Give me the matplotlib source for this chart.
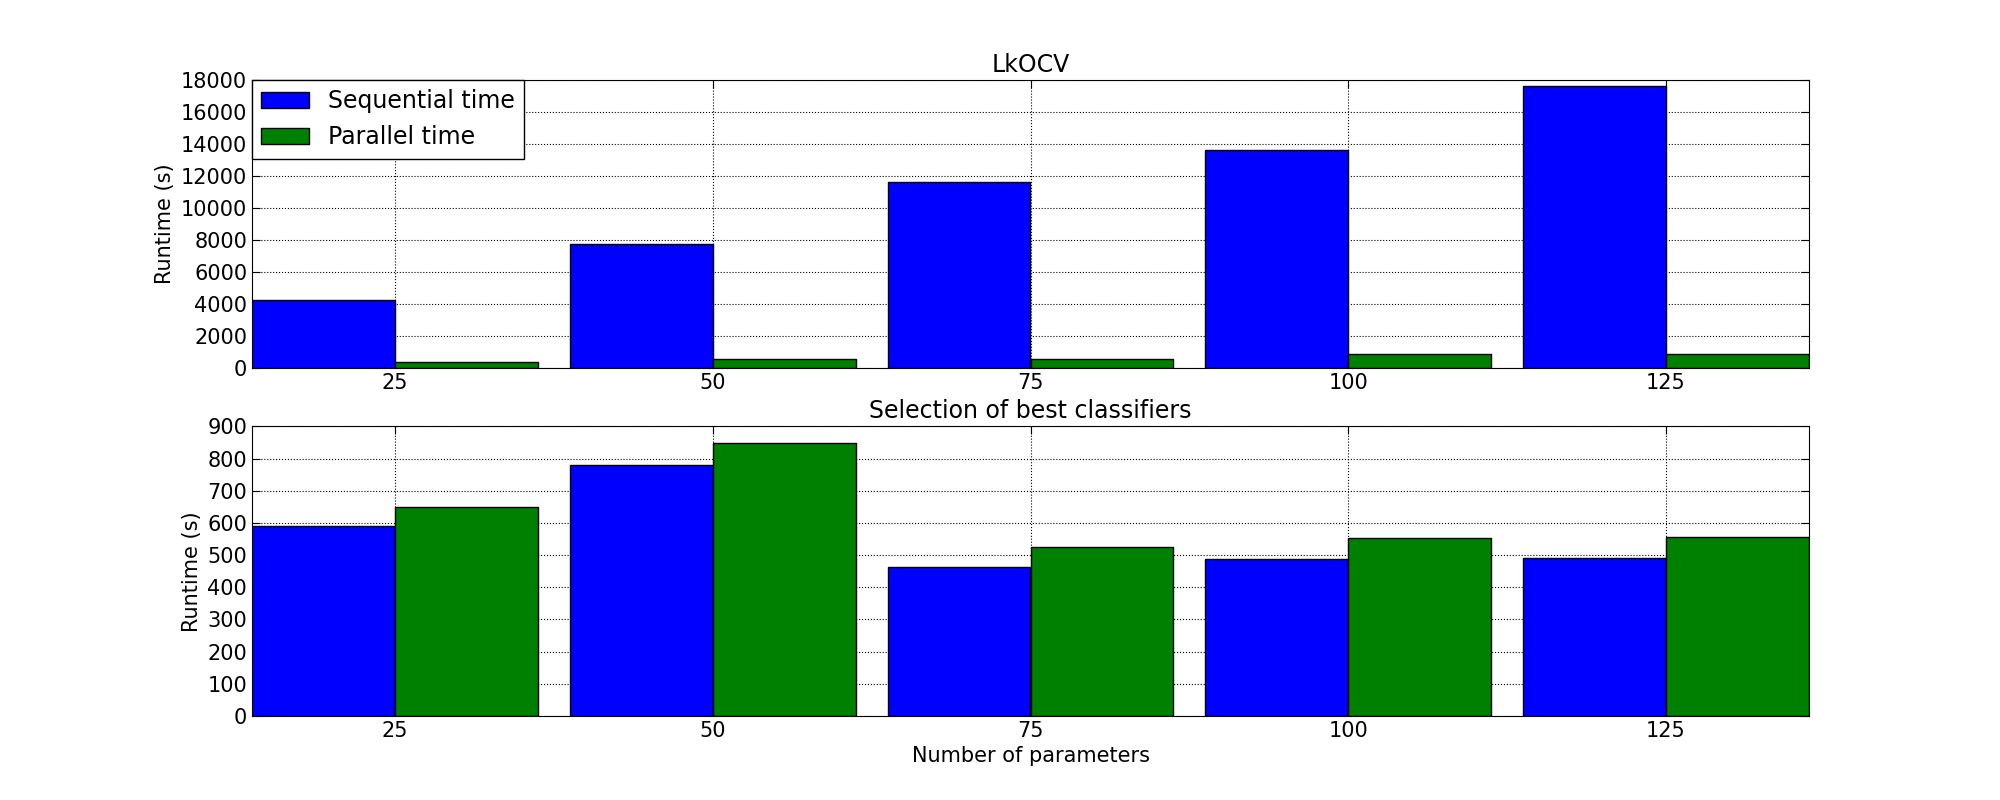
import matplotlib
matplotlib.use("Agg")
import matplotlib.pyplot as plt
import numpy as np

categories = ["25", "50", "75", "100", "125"]
lkocv_seq = [4250, 7750, 11600, 13600, 17600]
lkocv_par = [400, 550, 550, 900, 900]
sel_seq = [590, 780, 462, 487, 490]
sel_par = [650, 848, 525, 553, 557]

fig = plt.figure(figsize=(20, 8), dpi=100)
ax1 = fig.add_axes([0.126, 0.54, 0.7785, 0.36])
ax2 = fig.add_axes([0.126, 0.105, 0.7785, 0.362])
x = np.arange(len(categories))
w = 0.45
for ax, s, p, title, ymax, step in [
    (ax1, lkocv_seq, lkocv_par, "LkOCV", 18000, 2000),
    (ax2, sel_seq, sel_par, "Selection of best classifiers", 900, 100),
]:
    ax.bar(x - w, s, w, align="edge", color="#0000ff", edgecolor="black", label="Sequential time")
    ax.bar(x, p, w, align="edge", color="#008000", edgecolor="black", label="Parallel time")
    ax.set_xlim(-w, len(categories) - 1 + w)
    ax.set_ylim(0, ymax)
    ax.set_yticks(np.arange(0, ymax + 1, step))
    ax.set_xticks(x)
    ax.set_xticklabels(categories)
    ax.grid(True, color="black", linestyle=":", linewidth=0.8)
    ax.set_axisbelow(True)
    ax.set_title(title, fontsize=17)
    ax.set_ylabel("Runtime (s)", fontsize=15)
    ax.tick_params(labelsize=15, direction="in", top=True, right=True, length=6)
ax2.set_xlabel("Number of parameters", fontsize=15)
leg = ax1.legend(loc="upper left", fontsize=17, fancybox=False, borderaxespad=0, framealpha=1)
leg.get_frame().set_edgecolor("black")
fig.savefig("out.png")
